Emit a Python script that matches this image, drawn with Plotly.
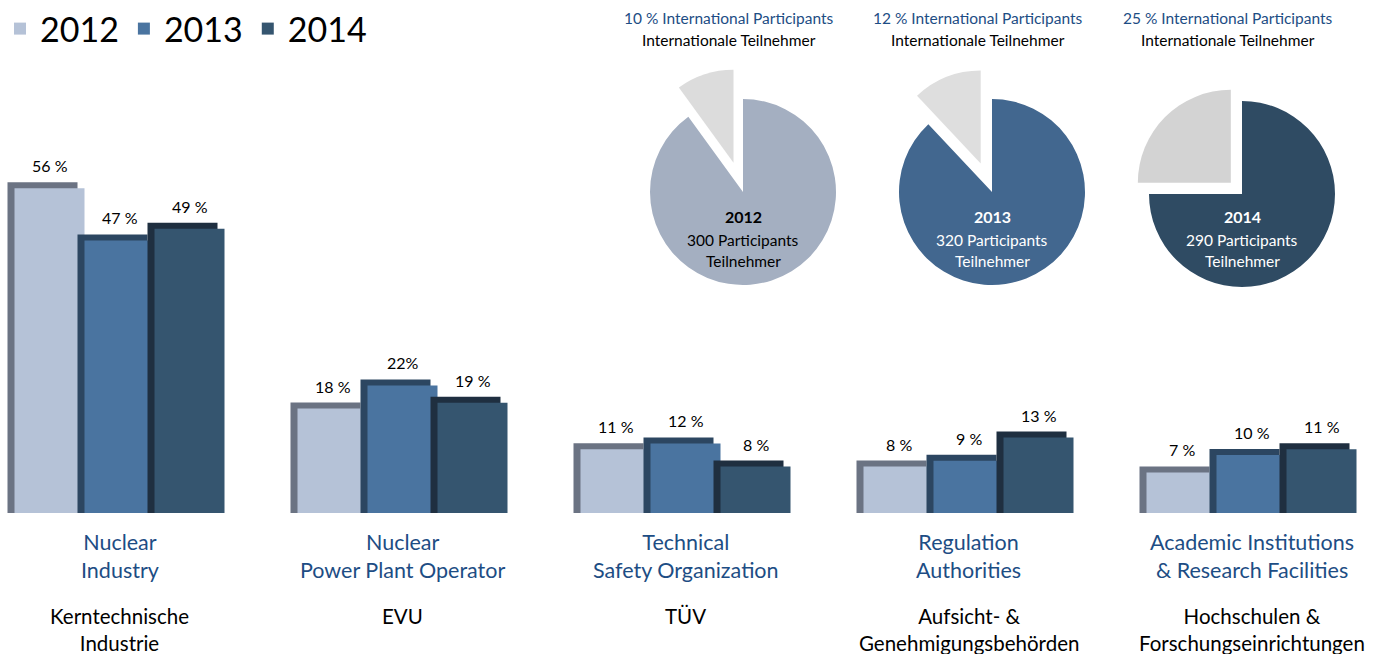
import plotly.graph_objects as go

# ---------------- data ----------------
years = ["2012", "2013", "2014"]
categories_en = ["Nuclear<br>Industry", "Nuclear<br>Power Plant Operator",
                 "Technical<br>Safety Organization", "Regulation<br>Authorities",
                 "Academic Institutions<br>& Research Facilities"]
categories_de = ["Kerntechnische<br>Industrie", "EVU", "TÜV",
                 "Aufsicht- &<br>Genehmigungsbehörden",
                 "Hochschulen &<br>Forschungseinrichtungen"]
share_2012 = [56, 18, 11, 8, 7]
share_2013 = [47, 22, 12, 9, 10]
share_2014 = [49, 19, 8, 13, 11]
labels_2012 = ["56 %", "18 %", "11 %", "8 %", "7 %"]
labels_2013 = ["47 %", "22%", "12 %", "9 %", "10 %"]
labels_2014 = ["49 %", "19 %", "8 %", "13 %", "11 %"]
intl_pct = [10, 12, 25]
participants = [300, 320, 290]

# ---------------- style / layout ----------------
W, H = 1389, 654
FONT = "Lato, Roboto, sans-serif"
BLUE = "#1d4d84"
front_colors = ["#b5c2d7", "#4a74a0", "#35556f"]
side_colors = ["#6b7383", "#2c4661", "#1f2f40"]
pie_colors = ["#a4afc1", "#42678f", "#2f4b63"]
slice_colors = ["#dcdcdc", "#dedede", "#d3d3d3"]
pie_text_colors = ["#000000", "#ffffff", "#ffffff"]

PX_X = 283.0          # pixels per category
X0 = 119.5            # pixel of first category centre
PX_Y = 5.8            # pixels per percent
Y0 = 513.0            # pixel of baseline
bar_w = 70.0 / PX_X
side_w = 7.0 / PX_X
top_h = 6.0 / PX_Y

series = [share_2012, share_2013, share_2014]
series_labels = [labels_2012, labels_2013, labels_2014]
xs = list(range(len(categories_en)))

fig = go.Figure()
annotations = []


def ann(text, x, y, xref="paper", yref="paper", size=16, color="#000000", **kw):
    d = dict(text=text, x=x, y=y, xref=xref, yref=yref, showarrow=False,
             xanchor="center", yanchor="middle",
             font=dict(family=FONT, size=size, color=color))
    d.update(kw)
    annotations.append(d)


for k, (vals, labs) in enumerate(zip(series, series_labels)):
    off = (k - 1) * bar_w - bar_w / 2
    fig.add_trace(go.Bar(
        x=xs, y=[v + top_h for v in vals], offset=off - side_w, width=bar_w,
        marker=dict(color=side_colors[k], line=dict(width=0)),
        showlegend=False, hoverinfo="skip"))
    fig.add_trace(go.Bar(
        x=xs, y=vals, offset=off, width=bar_w, name=years[k],
        marker=dict(color=front_colors[k], line=dict(width=0)),
        hoverinfo="skip"))
    for i, (v, t) in enumerate(zip(vals, labs)):
        ann(t, i + (k - 1) * bar_w, v, xref="x", yref="y", size=16,
            yanchor="bottom", yshift=11)


# category labels (English in blue, German in black), one annotation per label
def block(text, i, y_first, size, color):
    n = len(text.split("<br>"))
    yc = y_first + (n - 1) * 1.3 * size / 2
    ann(text, i, 1 - yc / H, xref="x", size=size, color=color)


for i in xs:
    block(categories_en[i], i, 542, 21.5, BLUE)
    block(categories_de[i], i, 616, 20.5, "#000000")

# pies
pie_centers = [(743, 192), (992, 192), (1242, 194)]
pie_pulls = [0.33, 0.33, 0.17]
R = 93
for n in range(3):
    cx, cy = pie_centers[n]
    half = R * (1 + pie_pulls[n])
    fig.add_trace(go.Pie(
        values=[100 - intl_pct[n], intl_pct[n]],
        labels=["Other", "International"],
        sort=False, direction="counterclockwise", rotation=0,
        pull=[0, pie_pulls[n]], textinfo="none", hoverinfo="skip",
        marker=dict(colors=[pie_colors[n], slice_colors[n]], line=dict(width=0)),
        domain=dict(x=[(cx - half) / W, (cx + half) / W],
                    y=[1 - (cy + half) / H, 1 - (cy - half) / H]),
        showlegend=False))
    tc = pie_text_colors[n]
    ann(f"<b>{years[n]}</b>", cx / W, 1 - 216 / H, size=16, color=tc)
    ann(f"{participants[n]} Participants", cx / W, 1 - 240 / H, size=15.5, color=tc)
    ann("Teilnehmer", cx / W, 1 - 261 / H, size=15.5, color=tc)
    ann(f"{intl_pct[n]} % International Participants", (cx - 14) / W, 1 - 18 / H,
        size=15.5, color=BLUE)
    ann("Internationale Teilnehmer", (cx - 14) / W, 1 - 40 / H, size=15.5)

fig.update_layout(
    width=W, height=H,
    margin=dict(l=0, r=0, t=0, b=0),
    paper_bgcolor="white", plot_bgcolor="white",
    barmode="overlay",
    xaxis=dict(range=[-X0 / PX_X, (W - X0) / PX_X], visible=False, fixedrange=True),
    yaxis=dict(range=[-(H - Y0) / PX_Y, Y0 / PX_Y], visible=False, fixedrange=True),
    legend=dict(orientation="h", x=0, y=1, xanchor="left", yanchor="top",
                font=dict(family=FONT, size=34, color="#000000"),
                bgcolor="rgba(0,0,0,0)"),
    annotations=annotations,
    hovermode=False,
)

fig.write_html("out.html", config={"displayModeBar": False},
               post_script="document.body.style.margin='0px';"
                           "document.body.style.overflow='hidden';")
